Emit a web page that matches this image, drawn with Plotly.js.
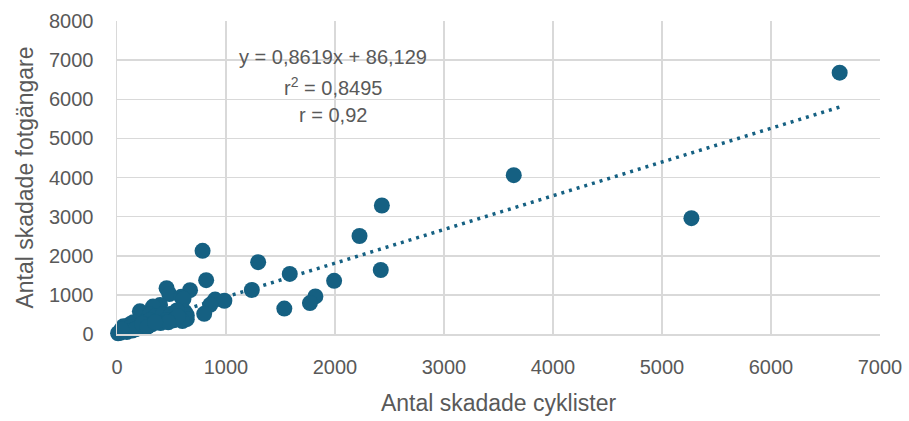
<!DOCTYPE html>
<html>
<head>
<meta charset="utf-8">
<script src="https://cdn.plot.ly/plotly-3.0.1.min.js"></script>
<style>html,body{margin:0;padding:0;background:#fff;}#chart{width:909px;height:421px;}</style>
</head>
<body>
<div id="chart"></div>
<script>
// Antal skadade cyklister (x) and Antal skadade fotgängare (y)
const cyclists = [6630, 5270, 3640, 2430, 2225, 2420, 1992, 1820, 1770, 1585, 1535, 1295, 1237,
  785, 818, 900, 985, 855, 800, 670, 455, 480, 590, 610, 620, 640, 640, 600,
  395, 380, 330, 210, 230, 300, 350, 420, 500, 550, 450, 520, 560, 250, 300, 150, 180,
  120, 80, 100, 50, 30, 10, 60, 130, 200, 260, 320, 400, 470, 90, 140, 170, 40, 230, 280, 350];
const pedestrians = [6680, 2960, 4060, 3285, 2505, 1635, 1360, 960, 790, 1535, 650, 1835, 1125,
  2125, 1375, 880, 850, 745, 515, 1120, 1170, 1020, 950, 900, 570, 480, 380, 330,
  740, 650, 700, 580, 520, 500, 450, 500, 520, 600, 350, 350, 450, 300, 350, 300, 200,
  250, 150, 100, 80, 30, 20, 200, 180, 150, 200, 250, 280, 300, 50, 90, 120, 120, 260, 180, 300];
const slope = 0.8619, intercept = 86.129;
const eqLines = ["y = 0,8619x + 86,129", "r<sup>2</sup> = 0,8495", "r = 0,92"];
const xTitle = "Antal skadade cyklister";
const yTitle = "Antal skadade fotgängare";

const xmin = Math.min(...cyclists), xmax = Math.max(...cyclists);
const trendX = [xmin, xmax];
const trendY = trendX.map(v => slope * v + intercept);

const color = "#156082";
const txt = "#595959";
const font = "Liberation Sans, Arial, sans-serif";

const traces = [
  {x: trendX, y: trendY, mode: "lines", type: "scatter",
   line: {color: color, width: 3.5, dash: "3px,5px"}, hoverinfo: "skip", showlegend: false},
  {x: cyclists, y: pedestrians, mode: "markers", type: "scatter", cliponaxis: false,
   marker: {color: color, size: 16, line: {width: 0}}, showlegend: false}
];

const eqY = [0.885, 0.792, 0.700];
const annotations = eqLines.map((t, i) => ({
  text: t, xref: "paper", yref: "paper", x: 0.283, y: eqY[i],
  xanchor: "center", yanchor: "middle", showarrow: false,
  font: {family: font, size: 20, color: txt}
}));

const layout = {
  width: 909, height: 421,
  margin: {l: 117, r: 29, t: 21, b: 87},
  paper_bgcolor: "#fff", plot_bgcolor: "#fff",
  font: {family: font, color: txt},
  xaxis: {range: [0, 7000], dtick: 1000, tick0: 0, showgrid: true, gridcolor: "#d9d9d9", gridwidth: 1.5,
    zeroline: false, showline: true, linecolor: "#d9d9d9", linewidth: 1.5,
    ticks: "", tickfont: {size: 20, color: txt}, ticklabelstandoff: 14,
    title: {text: xTitle, font: {size: 23, color: txt}, standoff: 18}},
  yaxis: {range: [0, 8000], dtick: 1000, tick0: 0, showgrid: true, gridcolor: "#d9d9d9", gridwidth: 1.5,
    zeroline: false, showline: true, linecolor: "#d9d9d9", linewidth: 1.5,
    ticks: "", tickfont: {size: 20, color: txt}, ticklabelstandoff: 18,
    title: {text: yTitle, font: {size: 23, color: txt}, standoff: 9}},
  annotations: annotations
};
Plotly.newPlot("chart", traces, layout, {displayModeBar: false, staticPlot: true});
</script>
</body>
</html>
